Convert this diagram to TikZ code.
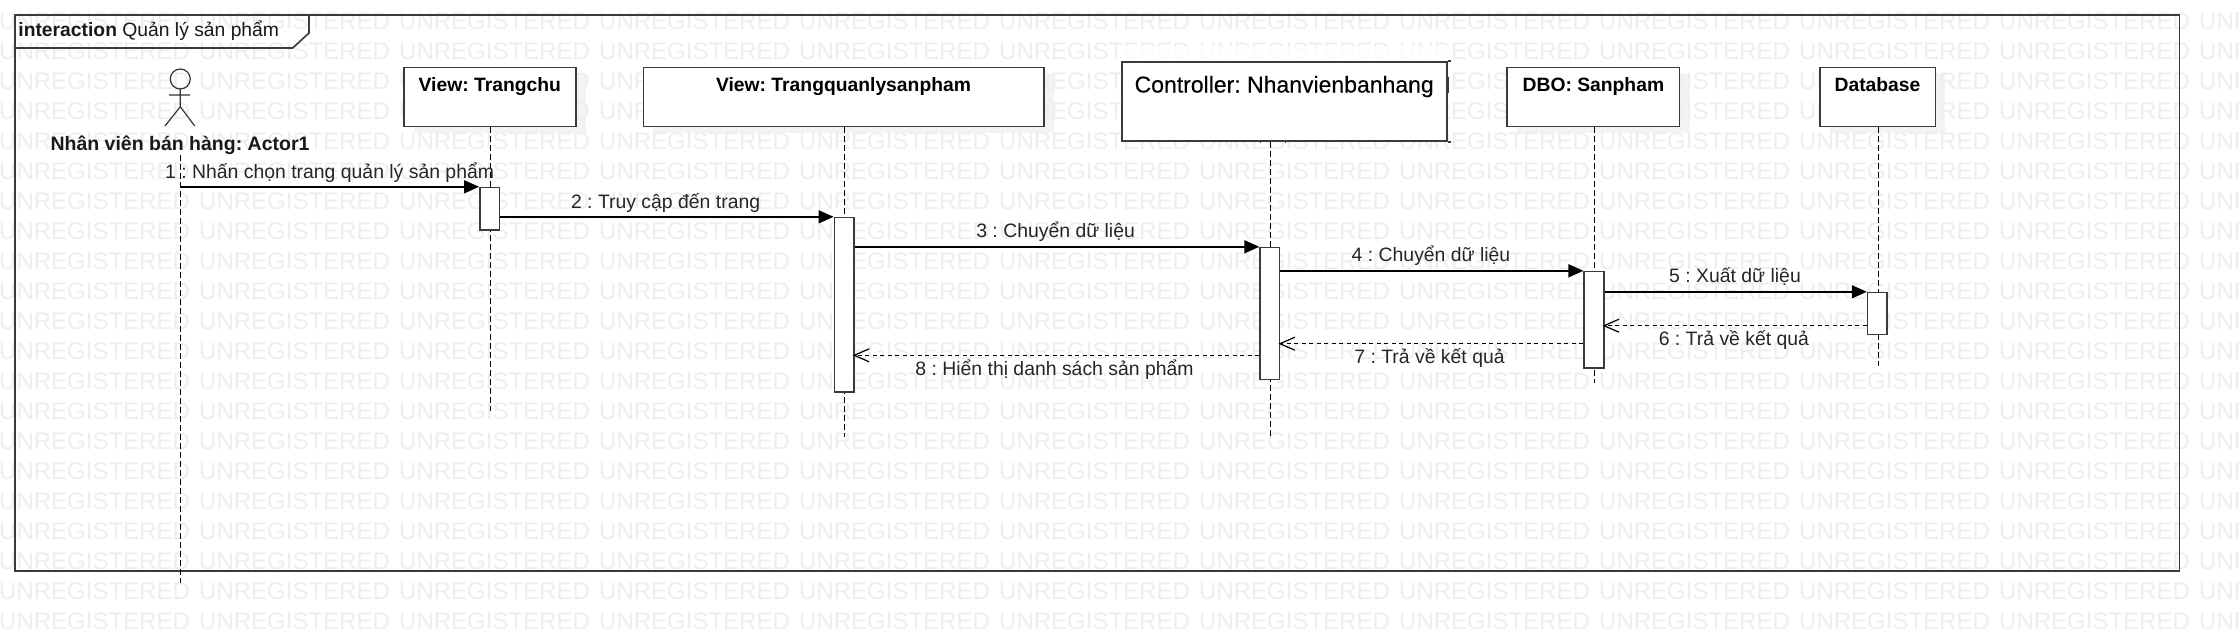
\documentclass[tikz,border=0pt]{standalone}
\usepackage{fontspec}
\setmainfont{Liberation Sans}
\newfontfamily\ctlfont[FakeBold=0.25]{Liberation Sans}
\usetikzlibrary{arrows.meta,calc}
\definecolor{wm}{HTML}{EEEEEE}
\definecolor{ln}{HTML}{3A3A3A}
\definecolor{shd}{HTML}{F3F3F3}
\tikzset{
  head/.style={draw=ln,line width=1.6pt,fill=white,inner sep=0pt,anchor=north west,font=\fontsize{19.3}{21}\selectfont\bfseries},
  act/.style={draw=ln,line width=1.5pt,fill=white,inner sep=0pt,anchor=north west,minimum width=19.6pt},
  life/.style={draw=black,line width=1pt,dash pattern=on 5.5pt off 3.5pt},
  msg/.style={draw=black,line width=1.5pt,-{Triangle[length=15pt,width=13pt,fill=black]}},
  ret/.style={draw=black,line width=1.3pt,dash pattern=on 4pt off 3.5pt,shorten >=-2pt,-{Straight Barb[length=15pt,width=13pt,line width=1.2pt]}},
  lbl/.style={inner sep=0pt,text=black!85,font=\fontsize{19.4}{21}\selectfont},
  wmark/.style={inner sep=0pt,anchor=west,text=wm,font=\fontsize{24}{26}\selectfont},
  shadowbox/.style={fill=shd,draw=none},
}
\newcommand{\headtxt}[1]{\raisebox{5.2pt}[0pt][0pt]{#1}}
\begin{document}
\frenchspacing
\begin{tikzpicture}[x=1pt,y=-1pt]
\useasboundingbox (0,0) rectangle (2239,643);
\fill[white] (0,0) rectangle (2239,643);
% shadows
\fill[shadowbox] (413.7,74.3) rectangle (585.9,133.3);
\fill[shadowbox] (653.3,74.3) rectangle (1053.7,133.3);
\fill[shadowbox] (1517.2,74.3) rectangle (1689.6,133.3);
\fill[shadowbox] (1829.6,74.3) rectangle (1945.2,133.3);
% watermark
\begin{scope}
\clip (0,0) rectangle (2239,643);
\foreach \r in {0,...,20}{
  \foreach \c in {0,...,11}{
    \node[wmark] at ({-1+200*\c},{21.7+30*\r}) {UNREGISTERED};
  }
}
\end{scope}
\fill[white,opacity=0.8] (1118,46) rectangle (1450,60);
% frame
\coordinate (fnw) at (14.8,14.7);
\coordinate (fse) at (2179.3,571);
\draw[ln,line width=1.6pt] (fnw) rectangle (fse);
\draw[ln,line width=1.6pt] (14.8,48) -- (292.7,48) -- (309,33) -- (309,14.7);
\node[inner sep=0pt,anchor=west,text=black!90,font=\fontsize{19.3}{21}\selectfont] (title) at (18.2,31) {\textbf{interaction} Quản lý sản phẩm};
% actor
\draw[black!80,line width=1.2pt,fill=none] (180.3,79) ellipse (10 and 10);
\draw[black!80,line width=1.2pt] (180.3,89) -- (180.3,106.7) (169,95) -- (190,95) (165,126) -- (180.3,106.7) -- (194.7,126);
\node[inner sep=0pt,font=\fontsize{19.5}{21}\selectfont\bfseries,text=black!90] (actor) at (180,145.5) {Nhân viên bán hàng: Actor1};
\coordinate (actorTop) at (180.5,155);
\coordinate (actorEnd) at (180.5,583);
% lifeline heads
\node[head,minimum width=172.2pt,minimum height=59pt] (h1) at (402.9,66.7) {\headtxt{View: Trangchu}};
\node[head,minimum width=400.4pt,minimum height=59pt] (h2) at (642.5,66.7) {\headtxt{View: Trangquanlysanpham}};
\node[head,minimum width=325pt,minimum height=79.4pt,line width=2pt,font=\fontsize{23}{25}\selectfont\ctlfont] (h3) at (1120.7,60.7) {\raisebox{8.9pt}[0pt][0pt]{Controller: Nhanvienbanhang}};
\draw[ln,line width=2pt] (h3.north east) -- ++(3.3,0) (h3.south east) -- ++(3.3,0);
\draw[ln,line width=1.2pt] (1448.3,76.7) -- (1448.3,93);
\node[head,minimum width=172.4pt,minimum height=59pt] (h4) at (1506.4,66.7) {\headtxt{DBO: Sanpham}};
\node[head,minimum width=115.6pt,minimum height=59pt] (h5) at (1818.9,66.7) {\headtxt{Database}};
% lifeline ends
\coordinate (e1) at (490.7,410.7);
\coordinate (e2) at (844.7,436.7);
\coordinate (e3) at (1270.5,436.7);
\coordinate (e4) at (1594.5,383);
\coordinate (e5) at (1878.5,365.7);
\draw[life] (actorTop) -- (actorEnd);
\draw[life] (h1.south -| e1) -- (e1);
\draw[life] (h2.south -| e2) -- (e2);
\draw[life] (h3.south -| e3) -- (e3);
\draw[life] (h4.south -| e4) -- (e4);
\draw[life] (h5.south -| e5) -- (e5);
\draw[ln,line width=0.8pt] (1260,140.5) -- (1260,143) (1285,140.5) -- (1285,143);
% activations
\node[act,minimum height=42.4pt] (a1) at (479.1,186.8) {};
\node[act,minimum height=174.4pt] (a2) at (833.6,216.8) {};
\node[act,minimum height=132pt] (a3) at (1259.3,246.8) {};
\node[act,minimum height=96.4pt] (a4) at (1583.4,270.8) {};
\node[act,minimum height=42pt] (a5) at (1866.8,291.8) {};
% message anchors
\coordinate (s1) at (180.5,186.8);
\draw[msg] (s1) -- (a1.north west);
\coordinate (s2) at (a1.east |- a2.north);
\draw[msg] (s2) -- (a2.north west);
\coordinate (s3) at (a2.east |- a3.north);
\draw[msg] (s3) -- (a3.north west);
\coordinate (s4) at (a3.east |- a4.north);
\draw[msg] (s4) -- (a4.north west);
\coordinate (s5) at (a4.east |- a5.north);
\draw[msg] (s5) -- (a5.north west);
\coordinate (r6) at (a5.west |- 0,325.7);
\draw[ret] (r6) -- (a4.east |- r6);
\coordinate (r7) at (a4.west |- 0,343.7);
\draw[ret] (r7) -- (a3.east |- r7);
\coordinate (r8) at (a3.west |- 0,355.3);
\draw[ret] (r8) -- (a2.east |- r8);
% labels
\node[lbl] (l1) at (329.6,172.7) {1 : Nhấn chọn trang quản lý sản phẩm};
\node[lbl] (l2) at (665.6,202.7) {2 : Truy cập đến trang};
\node[lbl] (l3) at (1055.6,232) {3 : Chuyển dữ liệu};
\node[lbl] (l4) at (1431,256) {4 : Chuyển dữ liệu};
\node[lbl] (l5) at (1735,277) {5 : Xuất dữ liệu};
\node[lbl] (l6) at (1733.9,340) {6 : Trả về kết quả};
\node[lbl] (l7) at (1429.5,357.7) {7 : Trả về kết quả};
\node[lbl] (l8) at (1054.5,370) {8 : Hiển thị danh sách sản phẩm};
\end{tikzpicture}
\end{document}
